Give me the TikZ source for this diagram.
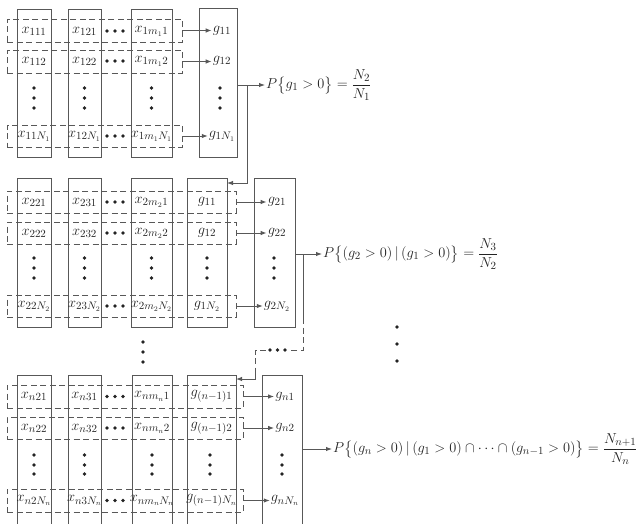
\documentclass[tikz,border=0pt]{standalone}
\usepackage{amsmath}
\usetikzlibrary{arrows.meta,calc}
\definecolor{lc}{RGB}{88,88,88}
\definecolor{tc}{RGB}{35,35,35}
\newcommand\mkbox[6]{\node[#1, minimum width={#4-#2}, minimum height={#5-#3}] (#6) at ({(#2+#4)/2},{(#3+#5)/2}) {};}
\tikzset{
  colbox/.style={draw=lc, line width=1pt, inner sep=0pt, outer sep=0pt, rectangle},
  rowbox/.style={draw=lc, line width=1pt, dash pattern=on 6pt off 3.5pt, inner sep=0pt, outer sep=0pt, rectangle},
  lab/.style={inner sep=1pt, text=tc, font=\fontsize{15}{18}\selectfont},
  ptext/.style={inner sep=1pt, text=tc, font=\fontsize{15}{18}\selectfont, anchor=west},
  ln/.style={draw=lc, line width=1pt},
  dln/.style={draw=lc, line width=1pt, dash pattern=on 6pt off 3.5pt},
  arr/.style={draw=lc, line width=1pt, -{Latex[length=6pt,width=4.5pt]}},
  dot/.style={circle, fill=tc, inner sep=0pt, minimum size=3.6pt},
}
\begin{document}
\begin{tikzpicture}[x=1pt,y=-1pt]
\useasboundingbox (0,0) rectangle (641,523);
% ---------- block 1 ----------
\mkbox{colbox}{17}{9}{51}{157}{b1c1}
\mkbox{colbox}{68}{9}{101}{157}{b1c2}
\mkbox{colbox}{131}{9}{172}{157}{b1c3}
\mkbox{colbox}{199}{8}{237}{157}{b1g}
\mkbox{rowbox}{7}{19}{182}{42}{b1r1}
\mkbox{rowbox}{7}{50}{182}{73}{b1r2}
\mkbox{rowbox}{7}{125}{182}{147}{b1r3}
\node[lab] (a111) at (34,31) {$x_{111}$};
\node[lab] (a121) at (84.5,31) {$x_{121}$};
\node[lab] (a131) at (151.5,31) {$x_{1m_1 1}$};
\node[lab] (a112) at (34,61) {$x_{112}$};
\node[lab] (a122) at (84.5,61) {$x_{122}$};
\node[lab] (a132) at (151.5,61) {$x_{1m_1 2}$};
\node[lab] (a11N) at (34,136) {$x_{11N_1}$};
\node[lab] (a12N) at (84.5,136) {$x_{12N_1}$};
\node[lab] (a13N) at (151.5,136) {$x_{1m_1 N_1}$};
\node[lab] (g11) at (222,31) {$g_{11}$};
\node[lab] (g12) at (222,61) {$g_{12}$};
\node[lab] (g1N) at (222,136) {$g_{1N_1}$};
\foreach \r/\g in {b1r1/g11,b1r2/g12,b1r3/g1N}
  \draw[arr] (\r.east) -- (\r.east -| \g.west);
\foreach \y [count=\i] in {31,61,136}
  \foreach \x [count=\j] in {107,115,123}
    \node[dot] (h1-\i-\j) at (\x,\y) {};
\foreach \x [count=\i] in {34,84.5,151.5,220}
  \foreach \y [count=\j] in {88,98,108}
    \node[dot] (v1-\i-\j) at (\x,\y) {};
\node[ptext] (p1) at (265,85) {$P\bigl\{g_1>0\bigr\}=\dfrac{N_2}{N_1}$};
\draw[arr] (b1g.east |- p1.west) -- (p1.west);
\coordinate (j1) at (247,85);
% ---------- block 2 ----------
\mkbox{colbox}{17}{178}{51}{327}{b2c1}
\mkbox{colbox}{68}{178}{101}{327}{b2c2}
\mkbox{colbox}{131}{178}{172}{327}{b2c3}
\mkbox{colbox}{187}{178}{227}{327}{b2c4}
\mkbox{colbox}{254}{178}{295}{327}{b2g}
\mkbox{rowbox}{7}{191}{236}{213}{b2r1}
\mkbox{rowbox}{7}{222}{236}{244}{b2r2}
\mkbox{rowbox}{7}{295}{236}{317}{b2r3}
\draw[arr] (j1) |- ($(b2c4.north east)+(0,5)$);
\node[lab] (a221) at (34,202) {$x_{221}$};
\node[lab] (a231) at (84.5,202) {$x_{231}$};
\node[lab] (a241) at (151.5,202) {$x_{2m_2 1}$};
\node[lab] (b211) at (207,202) {$g_{11}$};
\node[lab] (a222) at (34,233) {$x_{222}$};
\node[lab] (a232) at (84.5,233) {$x_{232}$};
\node[lab] (a242) at (151.5,233) {$x_{2m_2 2}$};
\node[lab] (b212) at (207,233) {$g_{12}$};
\node[lab] (a22N) at (34,306) {$x_{22N_2}$};
\node[lab] (a23N) at (84.5,306) {$x_{23N_2}$};
\node[lab] (a24N) at (151.5,306) {$x_{2m_2 N_2}$};
\node[lab] (b21N) at (207,306) {$g_{1N_2}$};
\node[lab] (g21) at (277,202) {$g_{21}$};
\node[lab] (g22) at (277,233) {$g_{22}$};
\node[lab] (g2N) at (277,306) {$g_{2N_2}$};
\foreach \r/\g in {b2r1/g21,b2r2/g22,b2r3/g2N}
  \draw[arr] (\r.east) -- (\r.east -| \g.west);
\foreach \y [count=\i] in {202,233,306}
  \foreach \x [count=\j] in {107,115,123}
    \node[dot] (h2-\i-\j) at (\x,\y) {};
\foreach \x [count=\i] in {34,84.5,151.5,207,274}
  \foreach \y [count=\j] in {258,268,278}
    \node[dot] (v2-\i-\j) at (\x,\y) {};
\node[ptext] (p2) at (322,254) {$P\bigl\{(g_2>0)\,|\,(g_1>0)\bigr\}=\dfrac{N_3}{N_2}$};
\draw[arr] (b2g.east |- p2.west) -- (p2.west);
\coordinate (j2) at (303,254);
\coordinate (k1) at (303,318);
\coordinate (k2) at (303,350);
\coordinate (k3) at (289,350);
\coordinate (k4) at (266,350);
\coordinate (k5) at (255,350);
\coordinate (k6) at (255,368);
\draw[ln] (j2) -- (k1);
\draw[dln] (k1) -- (k2) -- (k3);
\draw[dln] (k4) -- (k5) -- (k6);
\foreach \x [count=\i] in {270,277.5,285}
  \node[dot] (hc-\i) at (\x,350) {};
% vertical dots between blocks
\foreach \y [count=\i] in {342,352,362}
  \node[dot] (vm-\i) at (143,\y) {};
\foreach \y [count=\i] in {327,344,361}
  \node[dot] (vr-\i) at (397,\y) {};
% ---------- block 3 ----------
\mkbox{colbox}{17}{375}{51}{530}{b3c1}
\mkbox{colbox}{68}{375}{101}{530}{b3c2}
\mkbox{colbox}{132}{375}{172}{530}{b3c3}
\mkbox{colbox}{187}{375}{236}{530}{b3c4}
\mkbox{colbox}{262}{375}{302}{530}{b3g}
\mkbox{rowbox}{7}{385}{243}{408}{b3r1}
\mkbox{rowbox}{7}{417}{243}{439}{b3r2}
\mkbox{rowbox}{7}{489}{243}{512}{b3r3}
\draw[arr] (k6) |- ($(b3c4.north east)+(0,4)$);
\node[lab] (a321) at (34,396.5) {$x_{n21}$};
\node[lab] (a331) at (84.5,396.5) {$x_{n31}$};
\node[lab] (a341) at (152,396.5) {$x_{nm_n 1}$};
\node[lab] (b311) at (211.5,396.5) {$g_{(n-1)1}$};
\node[lab] (a322) at (34,428) {$x_{n22}$};
\node[lab] (a332) at (84.5,428) {$x_{n32}$};
\node[lab] (a342) at (152,428) {$x_{nm_n 2}$};
\node[lab] (b312) at (211.5,428) {$g_{(n-1)2}$};
\node[lab] (a32N) at (34,500.5) {$x_{n2N_n}$};
\node[lab] (a33N) at (84.5,500.5) {$x_{n3N_n}$};
\node[lab] (a34N) at (152,500.5) {$x_{nm_n N_n}$};
\node[lab] (b31N) at (211.5,500.5) {$g_{(n-1)N_n}$};
\node[lab] (g31) at (285,396.5) {$g_{n1}$};
\node[lab] (g32) at (285,428) {$g_{n2}$};
\node[lab] (g3N) at (285,500.5) {$g_{nN_n}$};
\foreach \r/\g in {b3r1/g31,b3r2/g32,b3r3/g3N}
  \draw[arr] (\r.east) -- (\r.east -| \g.west);
\foreach \y [count=\i] in {396.5,428,500.5}
  \foreach \x [count=\j] in {107,115,123}
    \node[dot] (h3-\i-\j) at (\x,\y) {};
\foreach \x [count=\i] in {34,84.5,152,210,282}
  \foreach \y [count=\j] in {455,465,474}
    \node[dot] (v3-\i-\j) at (\x,\y) {};
\node[ptext] (p3) at (332,449) {$P\bigl\{(g_n>0)\,|\,(g_1>0)\cap\cdots\cap(g_{n-1}>0)\bigr\}=\dfrac{N_{n+1}}{N_n}$};
\draw[arr] (b3g.east |- p3.west) -- (p3.west);
\end{tikzpicture}
\end{document}
